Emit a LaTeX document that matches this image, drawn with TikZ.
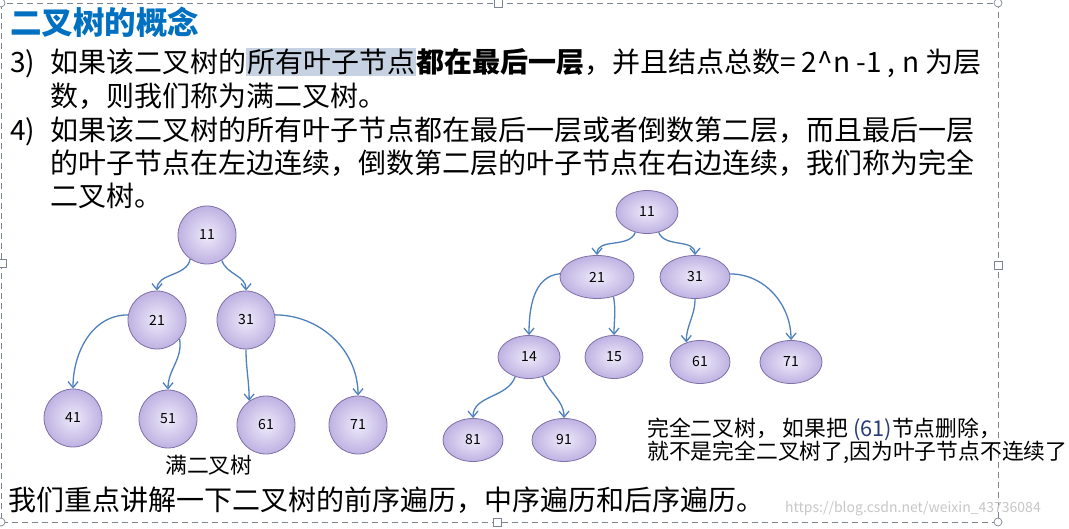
\documentclass[tikz,border=0pt]{standalone}
\usepackage{fontspec}
\setmainfont{Noto Sans CJK SC}
\usetikzlibrary{arrows.meta,shapes.geometric}
\definecolor{titleblue}{RGB}{0,112,192}
\definecolor{linkblue}{RGB}{79,129,189}
\definecolor{nodeedge}{RGB}{128,112,168}
\definecolor{nodein}{RGB}{238,234,250}
\definecolor{nodeout}{RGB}{190,178,226}
\definecolor{hlgray}{RGB}{198,210,226}
\definecolor{framegray}{RGB}{125,132,145}
\definecolor{numblue}{RGB}{40,60,120}

\begin{document}
\begin{tikzpicture}[x=1pt,y=-1pt,
  body/.style={anchor=base west,inner sep=0pt,font=\fontsize{28}{28}\selectfont},
  note/.style={anchor=base west,inner sep=0pt,font=\fontsize{21.8}{22}\selectfont},
  lnode/.style={circle,draw=nodeedge,line width=0.8pt,inner color=nodein,outer color=nodeout,
    minimum size=58pt,font=\fontsize{14}{14}\selectfont},
  rnode/.style={ellipse,draw=nodeedge,line width=0.8pt,inner color=nodein,outer color=nodeout,
    minimum width=62pt,minimum height=43pt,font=\fontsize{14}{14}\selectfont},
  link/.style={-{Straight Barb[length=6pt,width=10pt]},draw=linkblue,line width=1.3pt}]
  \useasboundingbox (0,0) rectangle (1069,529);
  \fill[white] (0,0) rectangle (1069,529);

  % selection frame
  \draw[framegray,line width=0.8pt,dash pattern=on 6pt off 4pt] (1,3) rectangle (998,522);
  \foreach \hx/\hy in {498/3,998/265,497/522,2/263}
    \draw[framegray,fill=white,line width=0.7pt] (\hx-4,\hy-4) rectangle (\hx+4,\hy+4);
  \foreach \hx/\hy in {1/3,998/3,998/522,1/522}
    \draw[framegray,fill=white,line width=0.7pt] (\hx,\hy) circle (4pt);

  % text
  \node[anchor=base west,inner sep=0pt,font=\fontsize{31.5}{32}\selectfont\bfseries,text=titleblue] (title) at (10,35) {二叉树的概念};
  \node[body] (num3) at (10,73) {3)};
  \node[body] (line1) at (50,73) {如果该二叉树的{\setlength\fboxsep{1pt}\colorbox{hlgray}{所有叶子节点}}\textbf{都在最后一层}，并且结点总数= 2\textasciicircum n -1 , n 为层};
  \node[body] (line2) at (50,107) {数，则我们称为满二叉树。};
  \node[body] (num4) at (10,141) {4)};
  \node[body] (line3) at (50,141) {如果该二叉树的所有叶子节点都在最后一层或者倒数第二层，而且最后一层};
  \node[body] (line4) at (50,174) {的叶子节点在左边连续，倒数第二层的叶子节点在右边连续，我们称为完全};
  \node[body] (line5) at (50,207) {二叉树。};

  % full tree
  \node[lnode] (l11) at (207,235) {11};
  \node[lnode] (l21) at (157,320) {21};
  \node[lnode] (l31) at (246,320) {31};
  \node[lnode] (l41) at (73,418) {41};
  \node[lnode] (l51) at (168,419) {51};
  \node[lnode] (l61) at (266,425) {61};
  \node[lnode] (l71) at (358,425) {71};
  \draw[link] (l11.235) to[out=-100,in=90] (l21.north);
  \draw[link] (l11.300) to[out=-70,in=90] (l31.north);
  \draw[link] (l21.170) to[out=180,in=90] (l41.north);
  \draw[link] (l21.320) to[out=-80,in=90] (l51.north);
  \draw[link] (l31.south) to[out=-90,in=90] (l61.125);
  \draw[link] (l31.10) to[out=0,in=90] (l71.north);
  \node[note] (fulllabel) at (165,473) {满二叉树};

  % complete tree
  \node[rnode] (r11) at (647,212) {11};
  \node[rnode,minimum width=74pt] (r21) at (597,277) {21};
  \node[rnode,minimum width=70pt] (r31) at (695,277) {31};
  \node[rnode] (r14) at (529,357) {14};
  \node[rnode,minimum width=58pt] (r15) at (614,357) {15};
  \node[rnode,minimum width=60pt] (r61) at (700,362) {61};
  \node[rnode] (r71) at (791,362) {71};
  \node[rnode,minimum width=60pt] (r81) at (473,440) {81};
  \node[rnode,minimum width=64pt] (r91) at (564,440) {91};
  \draw[link] (r11.240) to[out=-110,in=90] (r21.north);
  \draw[link] (r11.300) to[out=-70,in=90] (r31.north);
  \draw[link] (r21.175) to[out=185,in=90] (r14.north);
  \draw[link] (r21.310) to[out=-80,in=90] (r15.north);
  \draw[link] (r31.south) to[out=-90,in=90] (r61.125);
  \draw[link] (r31.5) to[out=0,in=90] (r71.north);
  \draw[link] (r14.235) to[out=-110,in=90] (r81.north);
  \draw[link] (r14.305) to[out=-70,in=90] (r91.north);
  \node[note] (cnote1) at (647,436) {完全二叉树， 如果把 {\color{numblue}(61)}节点删除，};
  \node[note] (cnote2) at (647,460) {就不是完全二叉树了,因为叶子节点不连续了};

  \node[body] (summary) at (8,510) {我们重点讲解一下二叉树的前序遍历，中序遍历和后序遍历。};
  \node[anchor=base west,inner sep=0pt,font=\fontsize{14}{14}\selectfont,text=black!22] (mark) at (785,512) {https://blog.csdn.net/weixin\_43736084};
\end{tikzpicture}
\end{document}
